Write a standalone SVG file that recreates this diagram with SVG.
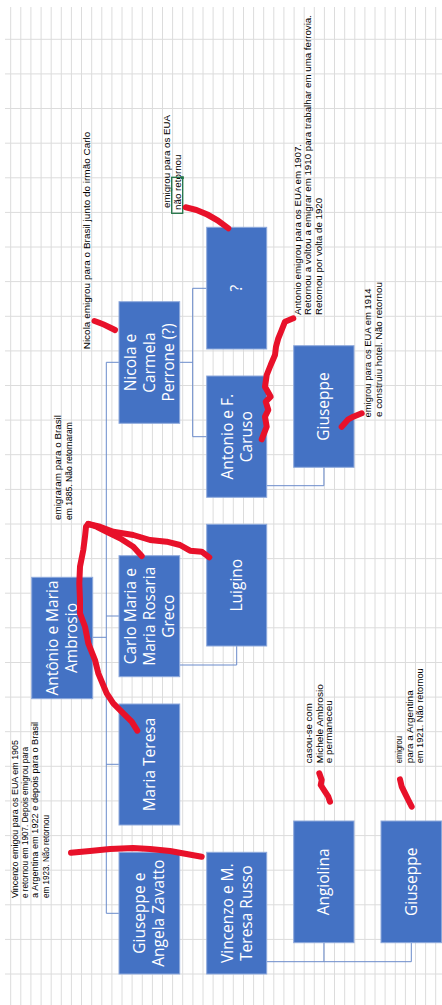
<svg xmlns="http://www.w3.org/2000/svg" width="442" height="1005" viewBox="0 0 442 1005">
<defs>
<style>
.grid{stroke:#dcdcdc;stroke-width:1;fill:none}
.box{fill:#4472C4;stroke:#8FAADC;stroke-width:1}
.bt{fill:#ffffff;font-family:"Open Sans","Noto Sans","DejaVu Sans",sans-serif;font-size:15.5px;text-anchor:middle}
.conn{stroke:#6A8BCB;stroke-width:1;fill:none}
.note{fill:#000000;font-family:"Liberation Sans Narrow","Liberation Sans","DejaVu Sans Condensed",sans-serif;font-size:9px}
.red{stroke:#E8112A;stroke-width:6;fill:none;stroke-linecap:round;stroke-linejoin:round}
</style>
</defs>
<rect x="0" y="0" width="442" height="1005" fill="#ffffff"/>
<g id="grid">
<path class="grid" d="M10.7,7V1005M20.8,7V1005M30.9,7V1005M41.1,7V1005M51.2,7V1005M61.3,7V1005M71.4,7V1005M81.5,7V1005M91.7,7V1005M101.8,7V1005M111.9,7V1005M122,7V1005M132.1,7V1005M142.3,7V1005M152.4,7V1005M162.5,7V1005M172.6,7V1005M182.7,7V1005M192.9,7V1005M203,7V1005M213.1,7V1005M223.2,7V1005M233.3,7V1005M243.5,7V1005M253.6,7V1005M263.7,7V1005M273.8,7V1005M283.9,7V1005M294.1,7V1005M304.2,7V1005M314.3,7V1005M324.4,7V1005M334.5,7V1005M344.7,7V1005M354.8,7V1005M364.9,7V1005M375,7V1005M385.1,7V1005M395.3,7V1005M405.4,7V1005M415.5,7V1005M425.6,7V1005M435.7,7V1005"/>
<path class="grid" d="M5,39.3H442M5,73.9H442M5,108.5H442M5,143.2H442M5,177.8H442M5,212.4H442M5,247H442M5,281.6H442M5,316.3H442M5,350.9H442M5,385.5H442M5,420.1H442M5,454.7H442M5,489.4H442M5,524H442M5,558.6H442M5,593.2H442M5,627.8H442M5,662.5H442M5,697.1H442M5,731.7H442M5,766.3H442M5,800.9H442M5,835.6H442M5,870.2H442M5,904.8H442M5,939.4H442M5,974H442"/>
</g>
<g id="connectors">
<path class="conn" d="M106.3,362.3V913.3"/>
<path class="conn" d="M92.7,637.3H106.3"/>
<path class="conn" d="M106.3,362.3H119"/>
<path class="conn" d="M106.3,616H119"/>
<path class="conn" d="M106.3,764.3H119"/>
<path class="conn" d="M106.3,913.3H119"/>
<path class="conn" d="M179.7,362.3H192.7M192.7,288.3V436.7M192.7,288.3H206.7M192.7,436.7H206.7"/>
<path class="conn" d="M266.7,485.7H323.9V467.3"/>
<path class="conn" d="M179.7,665H236.7V646"/>
<path class="conn" d="M266.7,961.7H411.3V942.7M323.9,961.7V942.7"/>
</g>
<g id="node-unknown">
<rect class="box" x="206.7" y="227.3" width="60" height="121.7"/>
<text class="bt" transform="translate(236.7,288.2) rotate(-90)"><tspan x="0" y="0" dy="0.35em">?</tspan></text>
</g>
<g id="node-nicola">
<rect class="box" x="119" y="301.7" width="60.7" height="121.6"/>
<text class="bt" transform="translate(149.3,362.5) rotate(-90)"><tspan x="0" y="-19.2" dy="0.35em">Nicola e</tspan><tspan x="0" y="0" dy="0.35em">Carmela</tspan><tspan x="0" y="19.2" dy="0.35em">Perrone (?)</tspan></text>
</g>
<g id="node-antonio-caruso">
<rect class="box" x="206.7" y="376" width="60" height="121.3"/>
<text class="bt" transform="translate(236.7,436.7) rotate(-90)"><tspan x="0" y="-9.6" dy="0.35em">Antonio e F.</tspan><tspan x="0" y="9.6" dy="0.35em">Caruso</tspan></text>
</g>
<g id="node-giuseppe-1">
<rect class="box" x="293.7" y="345.7" width="60.3" height="121.6"/>
<text class="bt" transform="translate(323.9,406.5) rotate(-90)"><tspan x="0" y="0" dy="0.35em">Giuseppe</tspan></text>
</g>
<g id="node-antonio-maria">
<rect class="box" x="31.7" y="577.3" width="61" height="121.4"/>
<text class="bt" transform="translate(62.2,638) rotate(-90)"><tspan x="0" y="-9.4" dy="0.35em">Antônio e Maria</tspan><tspan x="0" y="9.4" dy="0.35em">Ambrosio</tspan></text>
</g>
<g id="node-carlo">
<rect class="box" x="119" y="555.7" width="60.7" height="121"/>
<text class="bt" transform="translate(149.3,616.2) rotate(-90)"><tspan x="0" y="-19.2" dy="0.35em">Carlo Maria e</tspan><tspan x="0" y="0" dy="0.35em">Maria Rosaria</tspan><tspan x="0" y="19.2" dy="0.35em">Greco</tspan></text>
</g>
<g id="node-luigino">
<rect class="box" x="206.7" y="524.3" width="60" height="121.7"/>
<text class="bt" transform="translate(236.7,585.2) rotate(-90)"><tspan x="0" y="0" dy="0.35em">Luigino</tspan></text>
</g>
<g id="node-maria-teresa">
<rect class="box" x="119" y="704" width="60.7" height="121"/>
<text class="bt" transform="translate(149.3,764.5) rotate(-90)"><tspan x="0" y="0" dy="0.35em">Maria Teresa</tspan></text>
</g>
<g id="node-giuseppe-angela">
<rect class="box" x="119" y="852.3" width="60.7" height="121.7"/>
<text class="bt" transform="translate(149.3,913.2) rotate(-90)"><tspan x="0" y="-9.6" dy="0.35em">Giuseppe e</tspan><tspan x="0" y="9.6" dy="0.35em">Angela Zavatto</tspan></text>
</g>
<g id="node-vincenzo">
<rect class="box" x="206.7" y="852.3" width="60" height="121.7"/>
<text class="bt" transform="translate(236.7,913.2) rotate(-90)"><tspan x="0" y="-9.6" dy="0.35em">Vincenzo e M.</tspan><tspan x="0" y="9.6" dy="0.35em">Teresa Russo</tspan></text>
</g>
<g id="node-angiolina">
<rect class="box" x="293.7" y="821" width="60.3" height="121.7"/>
<text class="bt" transform="translate(323.9,881.9) rotate(-90)"><tspan x="0" y="0" dy="0.35em">Angiolina</tspan></text>
</g>
<g id="node-giuseppe-2">
<rect class="box" x="381" y="821" width="60.7" height="121.7"/>
<text class="bt" transform="translate(411.3,881.9) rotate(-90)"><tspan x="0" y="0" dy="0.35em">Giuseppe</tspan></text>
</g>
<g id="notes">
<text class="note" transform="translate(86.7,349.3) rotate(-90)" dy="0.35em" textLength="217.6" lengthAdjust="spacingAndGlyphs">Nicola emigrou para o Brasil junto do irmão Carlo</text>
<text class="note" transform="translate(167,208) rotate(-90)" dy="0.35em" textLength="93" lengthAdjust="spacingAndGlyphs">emigrou para os EUA</text>
<text class="note" transform="translate(177.5,210) rotate(-90)" dy="0.35em" textLength="55.5" lengthAdjust="spacingAndGlyphs">não retornou</text>
<rect x="171.7" y="177.3" width="11" height="36" fill="none" stroke="#217346" stroke-width="1.3"/>
<rect x="181" y="176.3" width="2.8" height="2.8" fill="#217346"/>
<text class="note" transform="translate(297.5,315) rotate(-90)" dy="0.35em" textLength="171" lengthAdjust="spacingAndGlyphs">Antonio emigrou para os EUA em 1907.</text>
<text class="note" transform="translate(308,315) rotate(-90)" dy="0.35em" textLength="300" lengthAdjust="spacingAndGlyphs">Retornou a voltou a emigrar em 1910 para trabalhar em uma ferrovia.</text>
<text class="note" transform="translate(319,315) rotate(-90)" dy="0.35em" textLength="117" lengthAdjust="spacingAndGlyphs">Retornou por volta de 1920</text>
<text class="note" transform="translate(368,417.5) rotate(-90)" dy="0.35em" textLength="129" lengthAdjust="spacingAndGlyphs">emigrou para os EUA em 1914</text>
<text class="note" transform="translate(379,417) rotate(-90)" dy="0.35em" textLength="135" lengthAdjust="spacingAndGlyphs">e construiu hotel. Não retornou</text>
<text class="note" transform="translate(57.5,520) rotate(-90)" dy="0.35em" textLength="105" lengthAdjust="spacingAndGlyphs">emigraram para o Brasil</text>
<text class="note" transform="translate(68.5,520) rotate(-90)" dy="0.35em" textLength="98" lengthAdjust="spacingAndGlyphs">em 1885. Não retornaram</text>
<text class="note" transform="translate(15,898) rotate(-90)" dy="0.35em" textLength="158" lengthAdjust="spacingAndGlyphs">Vincenzo emigou para os EUA em 1905</text>
<text class="note" transform="translate(25,898) rotate(-90)" dy="0.35em" textLength="151" lengthAdjust="spacingAndGlyphs">e retornou em 1907. Depois emigrou para</text>
<text class="note" transform="translate(35.3,898) rotate(-90)" dy="0.35em" textLength="176" lengthAdjust="spacingAndGlyphs">a Argentina em 1922 e depois para o Brasil</text>
<text class="note" transform="translate(45.7,898) rotate(-90)" dy="0.35em" textLength="83" lengthAdjust="spacingAndGlyphs">em 1923. Não retornou</text>
<text class="note" transform="translate(309.3,763.3) rotate(-90)" dy="0.35em" textLength="60" lengthAdjust="spacingAndGlyphs">casou-se com</text>
<text class="note" transform="translate(319.5,763.3) rotate(-90)" dy="0.35em" textLength="79" lengthAdjust="spacingAndGlyphs">Michele Ambrosio</text>
<text class="note" transform="translate(329.3,763.3) rotate(-90)" dy="0.35em" textLength="63" lengthAdjust="spacingAndGlyphs">e permaneceu</text>
<text class="note" transform="translate(399,763.3) rotate(-90)" dy="0.35em" textLength="27.3" lengthAdjust="spacingAndGlyphs">emigrou</text>
<text class="note" transform="translate(410,763.3) rotate(-90)" dy="0.35em" textLength="73" lengthAdjust="spacingAndGlyphs">para a Argentina</text>
<text class="note" transform="translate(420,763.3) rotate(-90)" dy="0.35em" textLength="95" lengthAdjust="spacingAndGlyphs">em 1921. Não retornou</text>
</g>
<g id="red-marks">
<path class="red" d="M185.7,207.3C198,209.5 212,215 228.3,228.3"/>
<path class="red" d="M94.5,321Q104,324 115,330"/>
<path class="red" d="M293.3,318.3L285,321.7L281.7,330L278.3,338.3L276,346.7L275,355L270.7,365L266.7,375L265,386.7L270.7,396.7L265.7,401.7L268.3,410L265,416.7L266.7,426.7L261.7,439.3"/>
<path class="red" d="M361.7,413.3L353.3,416.7L348.3,419.3L341.7,426.7"/>
<path class="red" d="M137.3,730.7L131.7,721.7L123.3,713.3L113.3,703.3L106.7,693.3L98.3,673.3L95,660L88.3,643.3L85,626.7L80,613.3L80,600L79.3,583.3L80,566.7L83.3,550L85,536.7L86,526.7L88.3,524"/>
<path class="red" d="M88.3,524L100,526.7L113.3,531.7L133.3,535L150,540L166.7,541.7L180,545L190,550.7L201.7,551.7L209.3,557.3"/>
<path class="red" d="M88.3,524L96.7,526.7L106.7,531.7L120,538.3L133.3,546.7L141.7,556"/>
<path class="red" d="M71,852.7L90,851L110,849L133,848L150,849L170,851L201.7,856.7"/>
<path class="red" d="M319.3,773.3L321.7,780L320.7,785L325,791.7L328.3,796.7L330,801.7"/>
<path class="red" d="M400,779.3L401.7,786.7L405,793.3L408.3,800L411.7,806.7"/>
</g>
</svg>
